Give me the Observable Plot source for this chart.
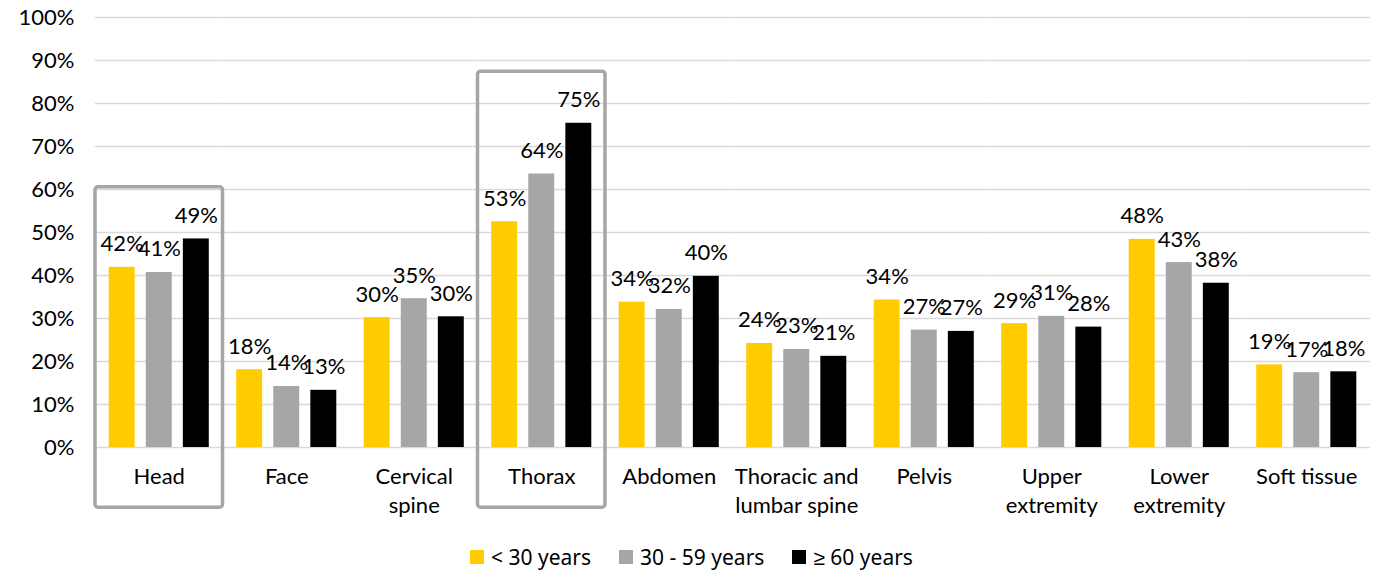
<!DOCTYPE html>
<html>
<head>
<meta charset="utf-8">
<script src="https://cdn.jsdelivr.net/npm/d3@7"></script>
<script src="https://cdn.jsdelivr.net/npm/@observablehq/plot@0.6"></script>
<style>
  body { margin: 0; background: #fff; font-family: Lato, sans-serif; }
  #chart { width: 1381px; }
  .lg-swatches { justify-content: center !important; padding-left: 30px; margin: 0 !important; font-size: 21px !important; color: #000; }
  .lg-swatches .lg-swatch { margin-right: 28px !important; }
  .lg-swatches .lg-swatch > svg { margin-right: 7px !important; }
</style>
</head>
<body>
<div id="chart"></div>
<script>
// Injury regions and the share of patients per age group (%)
const categories = ["Head", "Face", "Cervical spine", "Thorax", "Abdomen",
  "Thoracic and lumbar spine", "Pelvis", "Upper extremity", "Lower extremity", "Soft tissue"];
const categoryLabels = ["Head", "Face", "Cervical\nspine", "Thorax", "Abdomen",
  "Thoracic and\nlumbar spine", "Pelvis", "Upper\nextremity", "Lower\nextremity", "Soft tissue"];
const groups = ["< 30 years", "30 - 59 years", "≥ 60 years"];
const colors = ["#FFCC00", "#A6A6A6", "#000000"];
const under30 = [41.9, 18.1, 30.2, 52.5, 33.8, 24.2, 34.3, 28.8, 48.4, 19.2];
const age30to59 = [40.7, 14.2, 34.6, 63.6, 32.1, 22.8, 27.3, 30.5, 43.0, 17.4];
const over60 = [48.5, 13.3, 30.4, 75.4, 39.8, 21.2, 27.0, 28.0, 38.2, 17.6];
const highlighted = ["Head", "Thorax"];
const yTicks = [0, 10, 20, 30, 40, 50, 60, 70, 80, 90, 100];

const series = [under30, age30to59, over60];
const rows = categories.flatMap((c, i) =>
  groups.map((g, j) => ({category: c, group: g, value: series[j][i]})));

// Outline around the highlighted regions, reaching below the axis labels
const boxes = highlighted.map(c => {
  const i = categories.indexOf(c);
  return {category: c, top: Math.max(under30[i], age30to59[i], over60[i]) + 12};
});

const labelOf = new Map(categories.map((c, i) => [c, categoryLabels[i]]));

const chart = Plot.plot({
  width: 1381,
  height: 540,
  marginLeft: 95,
  marginRight: 11,
  marginTop: 17,
  marginBottom: 93,
  style: {fontFamily: "Lato, sans-serif", fontSize: "22px", color: "#000", background: "#fff"},
  fx: {domain: categories, padding: 0, round: false, label: null, axis: null},
  x: {domain: groups, paddingInner: 0.3, paddingOuter: 0.37, round: false, axis: null},
  y: {domain: [0, 100], label: null, axis: null},
  color: {domain: groups, range: colors},
  marks: [
    Plot.ruleY(yTicks, {stroke: "#D9D9D9", strokeWidth: 1.5}),
    Plot.axisY(yTicks, {
      tickSize: 0, tickPadding: 21, label: null, fontSize: 22,
      tickFormat: d => d + "%"
    }),
    Plot.barY(rows, {fx: "category", x: "group", y: "value", fill: "group"}),
    Plot.text(rows, {
      fx: "category", x: "group", y: "value",
      text: d => Math.round(d.value) + "%",
      lineAnchor: "bottom", dy: -16, fontSize: 22, fill: "#000"
    }),
    Plot.rect(boxes, {
      fx: "category", y1: -14, y2: "top",
      fill: "none", stroke: "#A6A6A6", strokeWidth: 3.5, rx: 3
    }),
    Plot.axisFx({
      anchor: "bottom", tickSize: 0, tickPadding: 16, label: null,
      fontSize: 22, lineHeight: 1.32, tickFormat: d => labelOf.get(d)
    })
  ]
});

const legend = Plot.legend({
  color: {domain: groups, range: colors},
  legend: "swatches",
  swatchSize: 14,
  className: "lg"
});

document.getElementById("chart").append(chart, legend);
</script>
</body>
</html>
